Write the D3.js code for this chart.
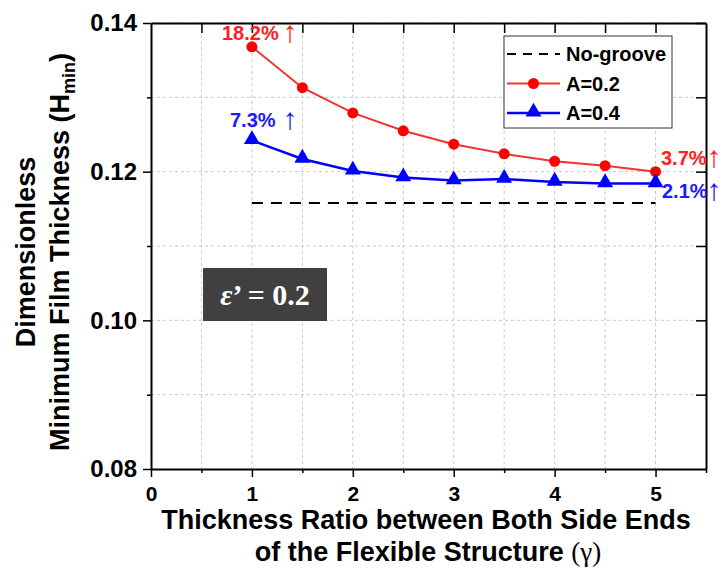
<!DOCTYPE html>
<html>
<head>
<meta charset="utf-8">
<script src="https://cdn.jsdelivr.net/npm/d3@7"></script>
<style>
  html, body { margin: 0; padding: 0; background: #fff; }
  svg text { font-family: Arial, "Liberation Sans", sans-serif; }
</style>
</head>
<body>
<svg id="chart" width="724" height="569"></svg>
<script>
// Thickness ratio gamma
const gammas = [1, 1.5, 2, 2.5, 3, 3.5, 4, 4.5, 5];
// Dimensionless minimum film thickness for each groove amplitude
const hA02 = [0.1368, 0.1313, 0.1279, 0.1255, 0.1237, 0.1224, 0.1214, 0.1208, 0.1200];
const hA04 = [0.1242, 0.1217, 0.1201, 0.1192, 0.1188, 0.1190, 0.1186, 0.1184, 0.1184];
// Reference case without groove
const noGrooveX = [1, 5];
const noGrooveH = [0.1158, 0.1158];
const xTicks = [0, 1, 2, 3, 4, 5];
const yTicks = [0.08, 0.10, 0.12, 0.14];

const svg = d3.select("#chart");
const m = { left: 151, right: 706, top: 23, bottom: 469 };

const x = d3.scaleLinear().domain([0, 5.5]).range([m.left, m.right]);
const y = d3.scaleLinear().domain([0.08, 0.14]).range([m.bottom, m.top]);

// grid
const gridX = d3.range(0.5, 5.5, 0.5);
const gridY = d3.range(0.09, 0.14, 0.01);
svg.append("g").selectAll("line").data(gridX).join("line")
  .attr("x1", d => x(d)).attr("x2", d => x(d))
  .attr("y1", m.top).attr("y2", m.bottom)
  .attr("stroke", "#c8c8c8").attr("stroke-width", 1).attr("stroke-dasharray", "3,3");
svg.append("g").selectAll("line").data(gridY).join("line")
  .attr("x1", m.left).attr("x2", m.right)
  .attr("y1", d => y(d)).attr("y2", d => y(d))
  .attr("stroke", "#c8c8c8").attr("stroke-width", 1).attr("stroke-dasharray", "3,3");

// axes
const fmtY = d3.format(".2f");
const xAxis = svg.append("g").attr("transform", `translate(0,${m.bottom})`)
  .call(d3.axisBottom(x).tickValues(xTicks).tickFormat(d3.format("d")).tickSizeInner(8).tickSizeOuter(0));
svg.append("g").attr("transform", `translate(0,${m.bottom})`)
  .call(d3.axisBottom(x).tickValues([0.5, 1.5, 2.5, 3.5, 4.5, 5.5]).tickFormat("").tickSizeInner(4).tickSizeOuter(0))
  .call(g => g.select(".domain").remove());
const yAxis = svg.append("g").attr("transform", `translate(${m.left},0)`)
  .call(d3.axisLeft(y).tickValues(yTicks).tickFormat(fmtY).tickSizeInner(8).tickSizeOuter(0));
svg.append("g").attr("transform", `translate(${m.left},0)`)
  .call(d3.axisLeft(y).tickValues([0.09, 0.11, 0.13]).tickFormat("").tickSizeInner(4).tickSizeOuter(0))
  .call(g => g.select(".domain").remove());
svg.append("g").attr("transform", `translate(0,${m.top})`)
  .call(d3.axisBottom(x).tickValues(gridX).tickFormat("").tickSizeInner(10).tickSizeOuter(0));
svg.append("g").attr("transform", `translate(${m.right},0)`)
  .call(d3.axisLeft(y).tickValues(gridY).tickFormat("").tickSizeInner(10).tickSizeOuter(0));

svg.selectAll(".domain").attr("stroke", "#000").attr("stroke-width", 2);
svg.selectAll(".tick line").attr("stroke", "#000").attr("stroke-width", 1.5);
xAxis.selectAll("text").attr("font-size", 21).attr("font-weight", "bold")
  .attr("y", 32).attr("dy", null).attr("fill", "#000");
yAxis.selectAll("text").attr("font-size", 24).attr("font-weight", "bold")
  .attr("dx", "-3").attr("fill", "#000");

// No-groove reference
const line = d3.line().x(d => x(d[0])).y(d => y(d[1]));
svg.append("path").datum(noGrooveX.map((g, i) => [g, noGrooveH[i]]))
  .attr("d", line).attr("fill", "none").attr("stroke", "#000")
  .attr("stroke-width", 2).attr("stroke-dasharray", "11,8");

// A=0.2 series
const redPts = gammas.map((g, i) => [g, hA02[i]]);
svg.append("path").datum(redPts).attr("d", line)
  .attr("fill", "none").attr("stroke", "#f03434").attr("stroke-width", 2);
svg.append("g").selectAll("circle").data(redPts).join("circle")
  .attr("cx", d => x(d[0])).attr("cy", d => y(d[1])).attr("r", 5.5).attr("fill", "#ff0000");

// A=0.4 series
const bluePts = gammas.map((g, i) => [g, hA04[i]]);
svg.append("path").datum(bluePts).attr("d", line)
  .attr("fill", "none").attr("stroke", "#0000ff").attr("stroke-width", 2.5);
const tri = d3.symbol().type(d3.symbolTriangle).size(110);
svg.append("g").selectAll("path").data(bluePts).join("path")
  .attr("d", tri).attr("transform", d => `translate(${x(d[0])},${y(d[1]) - 1})`)
  .attr("fill", "#0000ff");

// percentage annotations
function pct(text, px, py, ax, color) {
  svg.append("text").attr("x", px).attr("y", py)
    .attr("font-size", 20).attr("font-weight", "bold").attr("fill", color).text(text);
  svg.append("text").attr("x", ax).attr("y", py + 2).attr("text-anchor", "middle")
    .attr("font-size", 30).attr("fill", color)
    .style("font-family", "'Liberation Sans', Arial, sans-serif").text("\u2191");
}
pct("18.2%", 222, 40, 290, "#ff2020");
pct("7.3%", 230, 127, 290, "#1a1aff");
pct("3.7%", 661, 165, 714, "#ff2020");
pct("2.1%", 662, 198, 714, "#1a1aff");

// legend
const lg = svg.append("g");
lg.append("rect").attr("x", 504).attr("y", 36).attr("width", 168).attr("height", 92)
  .attr("fill", "#fff").attr("stroke", "#333").attr("stroke-width", 1);
const legendRows = [
  { label: "No-groove", color: "#000", dash: "9,7", marker: null, w: 2 },
  { label: "A=0.2", color: "#f03434", dash: null, marker: "circle", w: 2 },
  { label: "A=0.4", color: "#0000ff", dash: null, marker: "tri", w: 2.5 }
];
legendRows.forEach((r, i) => {
  const yy = 54 + i * 29.5;
  lg.append("line").attr("x1", 507).attr("x2", 560).attr("y1", yy).attr("y2", yy)
    .attr("stroke", r.color).attr("stroke-width", r.w).attr("stroke-dasharray", r.dash);
  if (r.marker === "circle") {
    lg.append("circle").attr("cx", 533.5).attr("cy", yy).attr("r", 5.5).attr("fill", "#ff0000");
  } else if (r.marker === "tri") {
    lg.append("path").attr("d", tri).attr("transform", `translate(533.5,${yy - 1})`).attr("fill", "#0000ff");
  }
  lg.append("text").attr("x", 566).attr("y", yy).attr("dy", "0.36em")
    .attr("font-size", 20).attr("font-weight", "bold").attr("fill", "#000").text(r.label);
});

// parameter box
svg.append("rect").attr("x", 203).attr("y", 268).attr("width", 124).attr("height", 53)
  .attr("fill", "#404040");
const eps = svg.append("text").attr("x", 265).attr("y", 305).attr("text-anchor", "middle")
  .attr("fill", "#fff").attr("font-size", 30).attr("font-weight", "bold")
  .style("font-family", "'Liberation Serif', 'DejaVu Serif', serif");
eps.append("tspan").attr("font-style", "italic").text("\u03B5");
eps.append("tspan").text("\u2019 = 0.2");

// axis titles
const yt = svg.append("g").attr("transform", "translate(0,252) rotate(-90)");
yt.append("text").attr("x", 0).attr("y", 35).attr("text-anchor", "middle")
  .attr("font-size", 27).attr("font-weight", "bold").attr("fill", "#000").text("Dimensionless");
const yt2 = yt.append("text").attr("x", 0).attr("y", 69).attr("text-anchor", "middle")
  .attr("font-size", 27).attr("font-weight", "bold").attr("fill", "#000");
yt2.append("tspan").text("Minimum Film Thickness (H");
yt2.append("tspan").attr("font-size", 18).attr("dy", 6).text("min");
yt2.append("tspan").attr("dy", -6).text(")");

svg.append("text").attr("x", 426).attr("y", 529).attr("text-anchor", "middle")
  .attr("font-size", 27).attr("font-weight", "bold").attr("fill", "#000")
  .text("Thickness Ratio between Both Side Ends");
const xt2 = svg.append("text").attr("x", 428).attr("y", 561).attr("text-anchor", "middle")
  .attr("font-size", 27).attr("font-weight", "bold").attr("fill", "#000");
xt2.append("tspan").text("of the Flexible Structure ");
xt2.append("tspan").attr("font-weight", "normal")
  .style("font-family", "'Liberation Serif', serif").text("(\u03B3)");
</script>
</body>
</html>
